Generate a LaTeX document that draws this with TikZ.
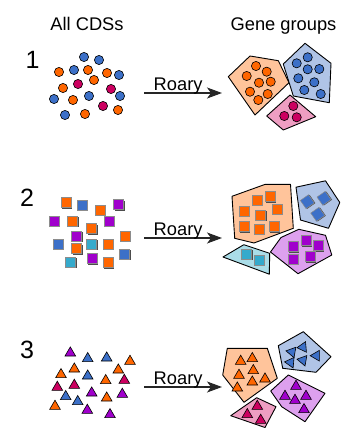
\documentclass[tikz,border=0pt]{standalone}
\usepackage{fontspec}
\setmainfont{Liberation Sans}
\usetikzlibrary{arrows.meta}
\definecolor{corange}{HTML}{FF6600}
\definecolor{cblue}{HTML}{3C70C8}
\definecolor{cmag}{HTML}{CC0060}
\definecolor{cpurp}{HTML}{A000CC}
\definecolor{ccyan}{HTML}{35AACC}
\definecolor{lorange}{HTML}{FFC49B}
\definecolor{lblue}{HTML}{B0C4E6}
\definecolor{lpink}{HTML}{EE9EC2}
\definecolor{lpurp}{HTML}{DDA0EE}
\definecolor{lcyan}{HTML}{AADDE8}
\tikzset{
  cds/.style={draw=black, line width=0.6pt},
  sqs/.style={draw=black!45, line width=0.5pt},
  grp/.style={draw=black, line width=0.9pt, line join=round},
  lbl/.style={font=\fontsize{18.3}{20}\selectfont, inner sep=0pt},
  num/.style={font=\fontsize{25}{28}\selectfont, inner sep=0pt},
  roary/.style={-{Stealth[length=15pt,width=11pt,inset=4pt]}, line width=1.1pt, draw=black!85}
}
\newcommand\cdsC[3]{\draw[cds, fill=#1] (#2,#3) circle (4.6pt);}
\newcommand\cdsS[4]{\begin{scope}[shift={(#2,#3)}, rotate=#4]
  \fill[black!70] (-4.2,-4.2) rectangle (5.8,5.8);
  \draw[sqs, fill=#1] (-5,-5) rectangle (5,5);
\end{scope}}
\newcommand\cdsT[4]{\draw[cds, fill=#1, shift={(#2,#3)}, rotate=#4] (-5.3,4.3) -- (5.3,4.3) -- (0,-4.8) -- cycle;}
\begin{document}
\begin{tikzpicture}[x=1pt, y=-1pt]
\useasboundingbox (0,0) rectangle (342,428);
% headings
\node[lbl, anchor=base] (h1) at (87,30.7) {All CDSs};
\node[lbl, anchor=base] (h2) at (283.5,30.5) {Gene groups};
\node[num, anchor=base] (n1) at (32.5,69) {1};
\node[num, anchor=base] (n2) at (27,206.7) {2};
\node[num, anchor=base] (n3) at (27,358.3) {3};
% arrows
\coordinate (a1s) at (144,93);  \coordinate (a1e) at (222,93);
\coordinate (a2s) at (144,238); \coordinate (a2e) at (222,238);
\coordinate (a3s) at (144,387); \coordinate (a3e) at (222,387);
\draw[roary] (a1s) -- (a1e);
\draw[roary] (a2s) -- (a2e);
\draw[roary] (a3s) -- (a3e);
\node[lbl, anchor=base west] (r1) at (153.5,90.7) {Roary};
\node[lbl, anchor=base west] (r2) at (153.5,235.8) {Roary};
\node[lbl, anchor=base west] (r3) at (153.5,384.8) {Roary};

% ---- row 1: circles
\cdsC{cblue}{84}{57}
\cdsC{cblue}{99}{60}
\cdsC{corange}{59}{72}
\cdsC{cblue}{74}{70}
\cdsC{corange}{88}{70}
\cdsC{corange}{107}{73}
\cdsC{cblue}{119}{75}
\cdsC{corange}{63}{88}
\cdsC{cmag}{78}{84}
\cdsC{corange}{94}{80}
\cdsC{cmag}{111}{89}
\cdsC{cblue}{54}{99}
\cdsC{corange}{73}{100}
\cdsC{cblue}{89}{96}
\cdsC{cblue}{120}{96}
\cdsC{cmag}{103}{106}
\cdsC{corange}{118}{110}
\cdsC{cblue}{65}{115}
\cdsC{corange}{85}{114}
% groups row 1
\draw[grp, fill=lorange] (228.3,76.7) -- (250,56) -- (278.3,60.7) -- (289,82.7) -- (255,115) -- cycle;
\draw[grp, fill=lblue] (283.3,64) -- (305,43.3) -- (331,63.3) -- (329.3,102.7) -- (293.3,96) -- cycle;
\draw[grp, fill=lpink] (266.7,116) -- (290,95) -- (315.7,116.7) -- (283.3,130) -- cycle;
\cdsC{corange}{256}{66}
\cdsC{corange}{266.7}{71.7}
\cdsC{corange}{246.7}{76}
\cdsC{corange}{259}{82.7}
\cdsC{corange}{270.7}{81.7}
\cdsC{corange}{250}{91.7}
\cdsC{corange}{267.7}{94}
\cdsC{corange}{258.3}{100}
\cdsC{cblue}{307.7}{57.3}
\cdsC{cblue}{296.7}{63.3}
\cdsC{cblue}{319.3}{69}
\cdsC{cblue}{307.7}{69.3}
\cdsC{cblue}{298.3}{78.3}
\cdsC{cblue}{314.3}{82.3}
\cdsC{cblue}{304.3}{90}
\cdsC{cblue}{320.7}{94}
\cdsC{cmag}{293.3}{106}
\cdsC{cmag}{284.3}{116}
\cdsC{cmag}{296.7}{117.3}

% ---- row 2: squares
\cdsS{corange}{66}{202.7}{0}
\cdsS{cblue}{82.3}{205}{0}
\cdsS{corange}{100}{210.3}{0}
\cdsS{cpurp}{118.7}{204.7}{0}
\cdsS{cpurp}{54.3}{221.3}{0}
\cdsS{corange}{72.7}{221.3}{0}
\cdsS{cpurp}{109.3}{221.3}{0}
\cdsS{corange}{91.7}{228.7}{0}
\cdsS{cpurp}{76.7}{236.3}{0}
\cdsS{corange}{125.3}{236.3}{0}
\cdsS{cblue}{58.3}{244}{0}
\cdsS{corange}{76.7}{248.7}{0}
\cdsS{ccyan}{91.7}{244}{0}
\cdsS{corange}{108.3}{244.3}{0}
\cdsS{cblue}{124.7}{254}{0}
\cdsS{ccyan}{70.7}{262}{0}
\cdsS{cpurp}{92}{258.7}{0}
\cdsS{corange}{108.3}{262.7}{0}
% groups row 2
\draw[grp, fill=lorange] (232,196.3) -- (265.3,184.3) -- (290.5,184.3) -- (293.3,228.3) -- (254,243) -- (234.7,238.3) -- cycle;
\draw[grp, fill=lblue] (296,187.2) -- (325.5,180.8) -- (339.8,202.5) -- (328.5,228.3) -- (300.5,220) -- cycle;
\draw[grp, fill=lpurp] (270.5,252) -- (281,237.5) -- (298.8,229.3) -- (325.5,235.3) -- (331.8,255) -- (298,273.7) -- cycle;
\draw[grp, fill=lcyan] (223,257) -- (243.8,244.7) -- (269.7,253.3) -- (269.3,274.2) -- cycle;
\cdsS{corange}{257.3}{200}{0}
\cdsS{corange}{270}{196.7}{0}
\cdsS{corange}{244}{211}{0}
\cdsS{corange}{260.7}{215}{0}
\cdsS{corange}{277.3}{209.3}{0}
\cdsS{corange}{244}{226.7}{0}
\cdsS{corange}{259}{229.3}{0}
\cdsS{corange}{274}{226.7}{0}
\cdsS{cblue}{307.3}{201.7}{35}
\cdsS{cblue}{324}{198.3}{35}
\cdsS{cblue}{317.7}{214.3}{35}
\cdsS{cpurp}{293.3}{246.7}{0}
\cdsS{cpurp}{306}{240.7}{0}
\cdsS{cpurp}{318.3}{245.7}{0}
\cdsS{cpurp}{293.3}{259}{0}
\cdsS{cpurp}{310}{256.7}{0}
\cdsS{ccyan}{246.7}{254.3}{0}
\cdsS{ccyan}{259.3}{260}{0}

% ---- row 3: triangles
\cdsT{cpurp}{70.3}{351.7}{0}
\cdsT{cblue}{87.7}{357.3}{0}
\cdsT{cblue}{106.7}{356.7}{0}
\cdsT{corange}{130}{360}{0}
\cdsT{corange}{61}{373.3}{0}
\cdsT{corange}{74.3}{367.7}{0}
\cdsT{corange}{118.3}{368.7}{0}
\cdsT{cblue}{87.7}{374.7}{0}
\cdsT{corange}{105.7}{379.3}{0}
\cdsT{cmag}{124.3}{379}{0}
\cdsT{cmag}{57.3}{386}{0}
\cdsT{cmag}{74.3}{384}{0}
\cdsT{cpurp}{91.7}{391.7}{0}
\cdsT{cpurp}{122.3}{393}{0}
\cdsT{cblue}{65.7}{395.3}{0}
\cdsT{cblue}{77.7}{400.3}{0}
\cdsT{corange}{106.7}{396.7}{0}
\cdsT{corange}{55}{405}{0}
\cdsT{cpurp}{87.3}{409}{0}
\cdsT{cpurp}{110}{413.3}{0}
% groups row 3
\draw[grp, fill=lorange] (227.3,348.3) -- (267.3,348.3) -- (277.3,378.3) -- (244,402.3) -- (222.7,375) -- cycle;
\draw[grp, fill=lblue] (278.3,345.7) -- (303.3,331.7) -- (331,356.7) -- (316,372.3) -- (282.7,368.3) -- cycle;
\draw[grp, fill=lpurp] (270.7,391) -- (288.3,375) -- (325,393.3) -- (305,421.7) -- (281.7,406.7) -- cycle;
\draw[grp, fill=lpink] (230.7,415.7) -- (256.7,397.7) -- (276,406.7) -- (265,427.5) -- cycle;
\cdsT{corange}{240.7}{360}{0}
\cdsT{corange}{252.3}{357.3}{0}
\cdsT{corange}{253.3}{369.3}{0}
\cdsT{corange}{239}{374}{0}
\cdsT{corange}{252.3}{380.7}{0}
\cdsT{corange}{265}{377.7}{0}
\cdsT{corange}{237.3}{386.7}{0}
\cdsT{cblue}{290.7}{351.7}{80}
\cdsT{cblue}{301.7}{347.3}{95}
\cdsT{cblue}{315}{355.7}{90}
\cdsT{cblue}{289.3}{362.3}{85}
\cdsT{cblue}{301.7}{360}{80}
\cdsT{cpurp}{296}{385}{0}
\cdsT{cpurp}{285}{395}{0}
\cdsT{cpurp}{306}{395}{0}
\cdsT{cpurp}{295}{399}{0}
\cdsT{cpurp}{304}{408.3}{0}
\cdsT{cmag}{257.3}{405}{0}
\cdsT{cmag}{247.3}{413.3}{0}
\cdsT{cmag}{260.7}{419}{0}
\end{tikzpicture}
\end{document}
